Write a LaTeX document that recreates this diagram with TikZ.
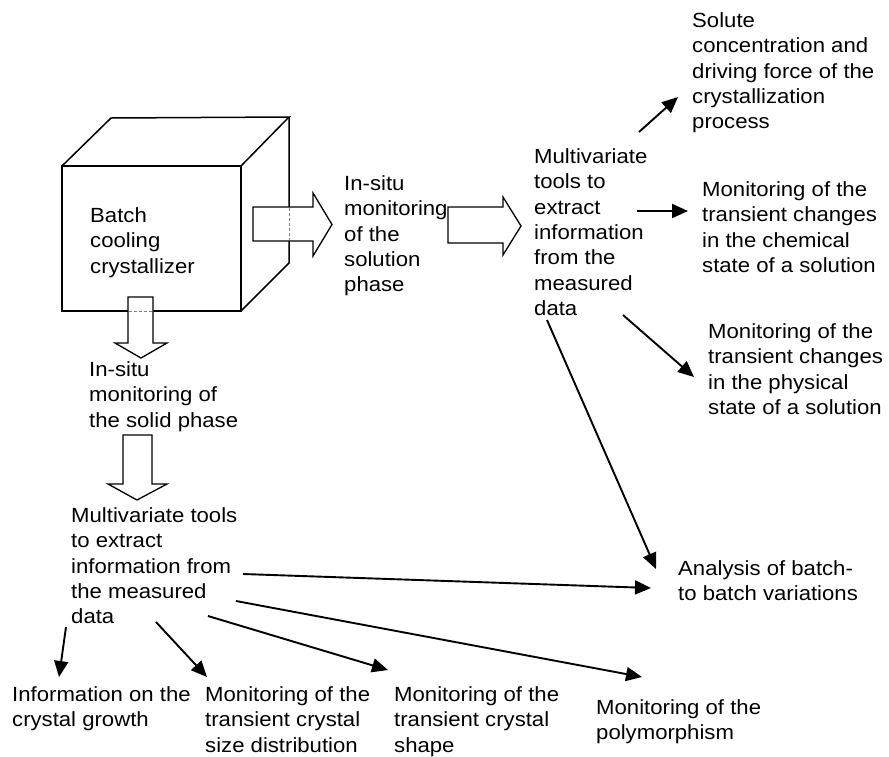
\documentclass[tikz,border=0pt]{standalone}
\usepackage{fontspec}
\setmainfont{Liberation Sans}[FakeStretch=1.08]
\usetikzlibrary{arrows.meta}
\newcommand\fsz{\fontsize{20.5pt}{25.3pt}\selectfont}
\tikzset{
  txt/.style={anchor=north west, inner sep=0pt, align=left, font=\fsz,
    execute at begin node={\rule{0pt}{15.5pt}}},
  conn/.style={line width=1.9pt, -{Triangle[length=16pt,width=14pt]}},
  blockarrow/.style={draw, fill=white, line width=1.3pt, line join=miter},
  cubeline/.style={line width=1.5pt, line join=miter},
  hidden/.style={gray, densely dashed, line width=0.6pt},
}
\begin{document}
\begin{tikzpicture}[x=1pt,y=-1pt]
\useasboundingbox (0,0) rectangle (889,756);
% cube
\draw[cubeline] (62,166) rectangle (241,311);
\draw[cubeline] (62,166) -- (111,118) -- (289,117) -- (241,166);
\draw[cubeline] (289,117) -- (289,263) -- (241,311);
% block arrows
\draw[blockarrow] (253,207) -- (313,207) -- (313,193) -- (332,224.5) -- (313,256) -- (313,241) -- (253,241) -- cycle;
\draw[hidden] (289,208) -- (289,240);
\draw[blockarrow] (448,207) -- (503,207) -- (503,197) -- (521,226) -- (503,255) -- (503,243) -- (448,243) -- cycle;
\draw[blockarrow] (128,297) -- (128,343) -- (115,343) -- (141,358) -- (167,343) -- (153,343) -- (153,297) -- cycle;
\draw[hidden] (129,311) -- (152,311);
\draw[blockarrow] (123,435) -- (123,484) -- (108,484) -- (137,500) -- (167,484) -- (152,484) -- (152,435) -- cycle;
% texts
\node[txt] (batch) at (90,207.5) {Batch\\cooling\\crystallizer};
\node[txt] (insol) at (344,175.5) {In-situ\\monitoring\\of the\\solution\\phase};
\node[txt] (mvr) at (534,148.5) {Multivariate\\tools to\\extract\\information\\from the\\measured\\data};
\node[txt] (solute) at (692,12.5) {Solute\\concentration and\\driving force of the\\crystallization\\process};
\node[txt] (chem) at (702,181.5) {Monitoring of the\\transient changes\\in the chemical\\state of a solution};
\node[txt] (phys) at (708,323.5) {Monitoring of the\\transient changes\\in the physical\\state of a solution};
\node[txt] (insolid) at (89,361.5) {In-situ\\monitoring of\\the solid phase};
\node[txt] (mvl) at (71,507.5) {Multivariate tools\\to extract\\information from\\the measured\\data};
\node[txt] (growth) at (12,686.5) {Information on the\\crystal growth};
\node[txt] (csd) at (205,686.5) {Monitoring of the\\transient crystal\\size distribution};
\node[txt] (shape) at (394,686.5) {Monitoring of the\\transient crystal\\shape};
\node[txt] (poly) at (596,699.5) {Monitoring of the\\polymorphism};
\node[txt] (batchvar) at (678,560.5) {Analysis of batch-\\to batch variations};
% connector end points
\coordinate (r1) at (639,132);   \coordinate (r1t) at (678,97);
\coordinate (r2) at (637,211);   \coordinate (r2t) at (688,211);
\coordinate (r3) at (623,315);   \coordinate (r3t) at (694,377);
\coordinate (r4) at (547,320);   \coordinate (r4t) at (656,569);
\coordinate (l1) at (243,574);   \coordinate (l1t) at (651,588);
\coordinate (l2) at (236,601);   \coordinate (l2t) at (642,677);
\coordinate (l3) at (208,616);   \coordinate (l3t) at (388,670);
\coordinate (l4) at (156,622);   \coordinate (l4t) at (207,677);
\coordinate (l5) at (66,627);    \coordinate (l5t) at (59,677);
\draw[conn] (r1) -- (r1t);
\draw[conn] (r2) -- (r2t);
\draw[conn] (r3) -- (r3t);
\draw[conn] (r4) -- (r4t);
\draw[conn] (l1) -- (l1t);
\draw[conn] (l2) -- (l2t);
\draw[conn] (l3) -- (l3t);
\draw[conn] (l4) -- (l4t);
\draw[conn] (l5) -- (l5t);
\end{tikzpicture}
\end{document}
